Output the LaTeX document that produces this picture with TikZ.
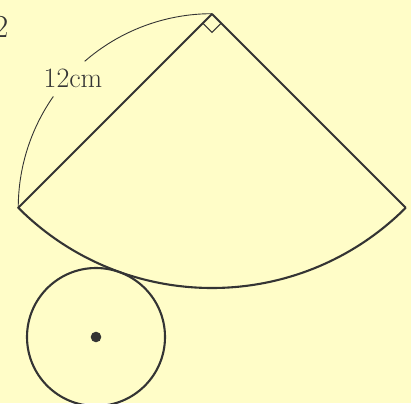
\documentclass[tikz,border=0pt]{standalone}
\usetikzlibrary{calc}
\definecolor{bg}{RGB}{255,253,200}
\definecolor{ink}{RGB}{52,52,52}
\tikzset{
  thick line/.style={draw=ink, line width=2.1pt},
  thin line/.style={draw=ink, line width=0.9pt},
  lbl/.style={text=ink, inner sep=0pt}
}
\begin{document}
\begin{tikzpicture}[x=1pt,y=-1pt]
\fill[bg] (0,0) rectangle (411,403);
\useasboundingbox (0,0) rectangle (411,403);
\coordinate (A) at (212,14);
\coordinate (L) at ($(A)+(135:274)$);
\coordinate (R) at ($(A)+(45:274)$);
\coordinate (C) at (96,337);
\coordinate (D) at (212,207.7);
% sector
\draw[thick line, line join=round] (R) -- (A) -- (L) arc[start angle=135, end angle=45, radius=274];
% right angle mark
\draw[thin line, line width=1pt] ($(A)+(135:13)$) -- ($(A)+(90:18.4)$) -- ($(A)+(45:13)$);
% dimension arc
\draw[thin line] (L) arc[start angle=180, end angle=215, radius=194];
\draw[thin line] ($(D)+(229:194)$) arc[start angle=229, end angle=270, radius=194];
\node[lbl, font=\fontsize{28}{32}\selectfont] (len) at (73,78) {12cm};
% circle
\draw[thick line] (C) circle[radius=69];
\fill[ink] (C) circle[radius=5.3];
\node[lbl, font=\fontsize{32}{36}\selectfont, anchor=east] (num) at (8.5,27) {2};
\end{tikzpicture}
\end{document}
